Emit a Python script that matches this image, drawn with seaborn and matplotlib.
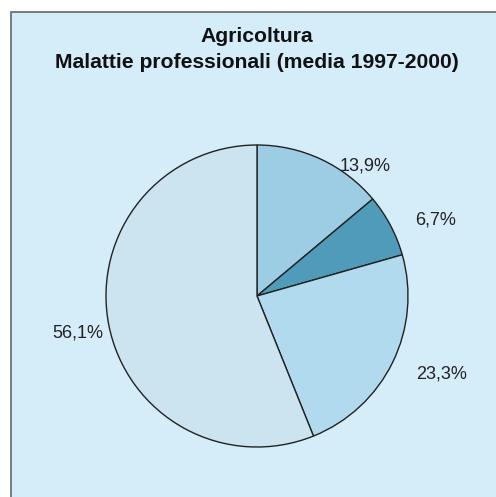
import matplotlib
matplotlib.use("Agg")
import matplotlib.pyplot as plt
import seaborn as sns
import numpy as np
from matplotlib.patches import Rectangle

sns.set_theme(style="white")
plt.rcParams['font.family'] = ['Liberation Sans', 'DejaVu Sans']

title_lines = ["Agricoltura", "Malattie professionali (media 1997-2000)"]
values = [13.9, 6.7, 23.3, 56.1]
labels = ["13,9%", "6,7%", "23,3%", "56,1%"]
colors = ["#9DCDE4", "#509BB9", "#B1DAEF", "#CBE4F0"]
# label placement: (angle in degrees, distance in radii)
label_pos = [(50.5, 1.13), (23.5, 1.29), (-22.4, 1.32), (-169.0, 1.21)]

W, H = 496, 497
fig = plt.figure(figsize=(W / 100, H / 100), dpi=100)
fig.patch.set_facecolor("white")

# background panel
bg = fig.add_axes([0, 0, 1, 1], zorder=-1)
bg.set_xlim(0, W)
bg.set_ylim(H, 0)
bg.axis("off")
bg.add_patch(Rectangle((11, 12), W + 10, H + 10, facecolor="#D5ECF9",
                       edgecolor="#666666", linewidth=1.2))

cx, cy, r = 257, 296, 151
ax = fig.add_axes([(cx - r) / W, (H - cy - r) / H, 2 * r / W, 2 * r / H], zorder=1)
ax.set_facecolor("none")
wedges, _ = ax.pie(values, colors=colors, startangle=90, counterclock=False,
                   wedgeprops=dict(edgecolor="#222222", linewidth=1.0))
ax.set_xlim(-1, 1)
ax.set_ylim(-1, 1)
ax.set_aspect("equal")
ax.axis("off")

for lab, (ang, d) in zip(labels, label_pos):
    a = np.deg2rad(ang)
    ax.annotate(lab, (d * np.cos(a), d * np.sin(a)), xytext=(0, -1.5),
                textcoords="offset points", ha="center", va="center",
                fontsize=13, color="#222222", annotation_clip=False)

fig.text(257 / W, 1 - 41.7 / H, title_lines[0], ha="center", va="baseline",
         fontsize=15.2, fontweight="bold", color="#111111", zorder=2)
fig.text(257 / W, 1 - 68.3 / H, title_lines[1], ha="center", va="baseline",
         fontsize=15.2, fontweight="bold", color="#111111", zorder=2)

fig.savefig("out.png", dpi=100)
